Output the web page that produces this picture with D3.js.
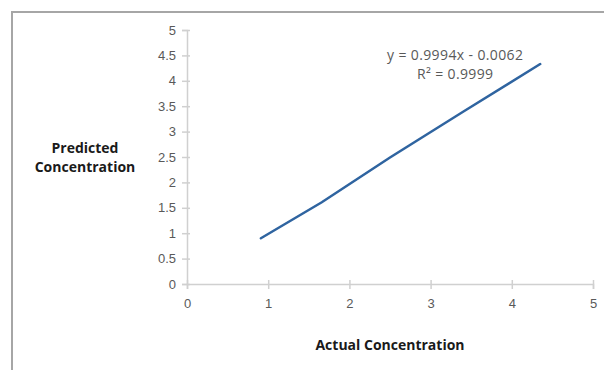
<!DOCTYPE html>
<html>
<head>
<meta charset="utf-8">
<script src="https://cdn.jsdelivr.net/npm/d3@7"></script>
<style>
  body { margin: 0; background: #fff; }
  svg { display: block; font-family: "Open Sans", "Liberation Sans", sans-serif; }
</style>
</head>
<body>
<svg width="604" height="370"></svg>
<script>
// values
const actual = [0.91, 1.66, 2.5, 3.4, 4.35];
const predicted = [0.9, 1.61, 2.49, 3.39, 4.33];
const xTicks = [0, 1, 2, 3, 4, 5];
const yTicks = [0, 0.5, 1, 1.5, 2, 2.5, 3, 3.5, 4, 4.5, 5];
const equation = ['y = 0.9994x - 0.0062', 'R² = 0.9999'];

const svg = d3.select('svg');

// chart frame (runs off the right and bottom edge)
svg.append('rect')
  .attr('x', 12).attr('y', 12)
  .attr('width', 620).attr('height', 400)
  .attr('fill', 'none')
  .attr('stroke', '#a6a6a6')
  .attr('stroke-width', 2);

const x = d3.scaleLinear().domain([0, 5]).range([187, 593]);
const y = d3.scaleLinear().domain([0, 5]).range([284, 30]);

const axisColor = '#d0d0d0';
const labelColor = '#595959';

const xAxis = svg.append('g')
  .attr('transform', `translate(0,${y(0)})`)
  .call(d3.axisBottom(x).tickValues(xTicks).tickSize(5).tickPadding(10).tickFormat(d3.format('')));

const yAxis = svg.append('g')
  .attr('transform', `translate(${x(0)},0)`)
  .call(d3.axisLeft(y).tickValues(yTicks).tickSize(5).tickPadding(6).tickFormat(d3.format('')));

[xAxis, yAxis].forEach(g => {
  g.select('.domain').attr('stroke', axisColor).attr('stroke-width', 1.5);
  g.selectAll('.tick line').attr('stroke', axisColor).attr('stroke-width', 1.5);
  g.selectAll('.tick text').attr('fill', labelColor).style('font-size', '13px');
});
// ticks cross the axis lines slightly
xAxis.selectAll('.tick line').attr('y1', -4);
yAxis.selectAll('.tick line').attr('x1', 3);

// data line
const pts = actual.map((a, i) => [a, predicted[i]]);
svg.append('path')
  .datum(pts)
  .attr('d', d3.line().x(d => x(d[0])).y(d => y(d[1])))
  .attr('fill', 'none')
  .attr('stroke', '#2f64a0')
  .attr('stroke-width', 2.5)
  .attr('stroke-linecap', 'round');

// trendline label
svg.append('g').selectAll('text')
  .data(equation)
  .enter()
  .append('text')
  .attr('x', 455)
  .attr('y', (d, i) => 60 + i * 19)
  .attr('text-anchor', 'middle')
  .attr('fill', labelColor)
  .style('font-size', '14px')
  .attr('textLength', (d, i) => i === 0 ? 136 : 76)
  .text(d => d);

// axis titles
svg.append('text')
  .attr('x', 390).attr('y', 350)
  .attr('text-anchor', 'middle')
  .style('font-size', '14px').style('font-weight', 'bold')
  .attr('fill', '#1a1a1a')
  .text('Actual Concentration');

svg.append('g').selectAll('text')
  .data(['Predicted', 'Concentration'])
  .enter()
  .append('text')
  .attr('x', 85)
  .attr('y', (d, i) => 153 + i * 19)
  .attr('text-anchor', 'middle')
  .style('font-size', '14px').style('font-weight', 'bold')
  .attr('fill', '#1a1a1a')
  .text(d => d);
</script>
</body>
</html>
